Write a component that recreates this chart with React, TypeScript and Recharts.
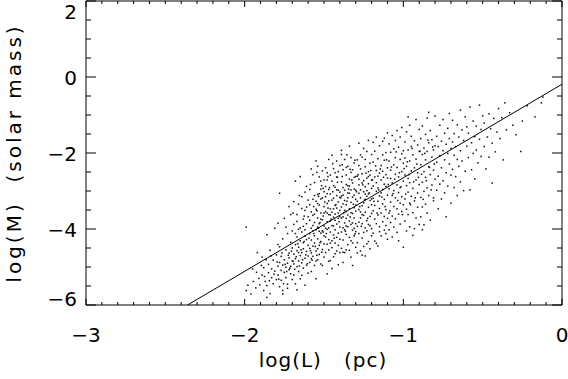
import React from 'react';
import { ScatterChart, Scatter, XAxis, YAxis } from 'recharts';

const xMajorTicks = [-3, -2, -1, 0];
const xMinorTicks = [-3, -2.9, -2.8, -2.7, -2.6, -2.5, -2.4, -2.3, -2.2, -2.1, -2, -1.9, -1.8, -1.7, -1.6, -1.5, -1.4, -1.3, -1.2, -1.1, -1, -0.9, -0.8, -0.7, -0.6, -0.5, -0.4, -0.3, -0.2, -0.1, 0];
const yMajorTicks = [-6, -4, -2, 0, 2];
const yMinorTicks = [-6, -5.5, -5, -4.5, -4, -3.5, -3, -2.5, -2, -1.5, -1, -0.5, 0, 0.5, 1, 1.5, 2];

const xLabel = 'log(L)   (pc)';
const yLabel = 'log(M)  (solar mass)';

const fitLineX = [-2.36, 0];
const fitLineY = [-6, -0.19];

const cloudPoints: number[][] = [
[-1.99,-3.95],[-1.99,-5.62],[-1.98,-5.48],[-1.96,-5.71],[-1.95,-5.05],[-1.93,-5.55],[-1.91,-5.30],[-1.92,-4.62],
[-1.89,-5.21],[-1.89,-4.74],[-1.88,-5.62],[-1.88,-5.02],[-1.87,-5.38],[-1.86,-4.15],[-1.86,-5.49],[-1.85,-4.93],[-1.85,-5.15],[-1.84,-5.70],[-1.84,-4.56],[-1.83,-5.28],[-1.83,-5.05],[-1.82,-4.82],[-1.82,-5.44],[-1.81,-3.98],[-1.81,-5.11],[-1.80,-4.68],[-1.80,-5.33],[-1.86,-5.80],
[-1.79,-4.98],[-1.79,-5.21],[-1.79,-4.41],[-1.78,-5.52],[-1.78,-4.88],[-1.78,-3.06],[-1.77,-5.09],[-1.77,-4.72],[-1.77,-5.35],[-1.76,-4.95],[-1.76,-4.26],[-1.76,-5.62],[-1.75,-5.14],[-1.75,-4.81],[-1.75,-3.72],[-1.74,-5.01],[-1.74,-4.55],[-1.74,-5.28],[-1.73,-4.90],[-1.73,-4.12],[-1.73,-5.45],[-1.72,-4.76],[-1.72,-5.07],[-1.72,-3.41],[-1.72,-4.63],[-1.71,-4.98],[-1.71,-5.18],[-1.71,-4.35],[-1.70,-4.84],[-1.70,-5.33],[-1.70,-4.50],[-1.79,-3.85],[-1.76,-5.71],[-1.74,-3.95],[-1.71,-3.62],[-1.78,-4.47],[-1.73,-5.56],[-1.70,-4.05],
[-1.69,-4.66],[-1.69,-4.92],[-1.69,-3.88],[-1.69,-5.21],[-1.68,-4.41],[-1.68,-4.78],[-1.68,-2.74],[-1.68,-5.44],[-1.67,-4.57],[-1.67,-3.62],[-1.67,-4.99],[-1.67,-4.21],[-1.66,-4.84],[-1.66,-3.35],[-1.66,-4.48],[-1.66,-5.12],[-1.65,-4.70],[-1.65,-3.97],[-1.65,-4.31],[-1.65,-5.31],[-1.64,-4.62],[-1.64,-3.15],[-1.64,-4.89],[-1.64,-4.08],[-1.63,-4.52],[-1.63,-3.74],[-1.63,-5.03],[-1.63,-4.36],[-1.62,-4.77],[-1.62,-3.51],[-1.62,-4.19],[-1.62,-5.48],[-1.61,-4.59],[-1.61,-3.86],[-1.61,-4.95],[-1.61,-2.88],[-1.60,-4.43],[-1.60,-3.68],[-1.60,-4.71],[-1.60,-5.16],[-1.69,-3.28],[-1.67,-5.60],[-1.66,-4.01],[-1.64,-3.46],[-1.62,-4.02],[-1.61,-4.28],[-1.68,-4.12],[-1.65,-2.62],[-1.63,-3.93],[-1.60,-3.24],[-1.67,-3.80],[-1.64,-5.22],[-1.62,-3.03],[-1.66,-4.62],[-1.61,-3.42],
[-1.59,-4.51],[-1.59,-3.77],[-1.59,-2.96],[-1.59,-4.88],[-1.59,-4.12],[-1.58,-3.55],[-1.58,-4.63],[-1.58,-2.42],[-1.58,-4.29],[-1.58,-5.12],[-1.57,-3.91],[-1.57,-4.45],[-1.57,-3.22],[-1.57,-4.72],[-1.57,-3.64],[-1.56,-4.18],[-1.56,-2.78],[-1.56,-4.96],[-1.56,-3.83],[-1.56,-4.37],[-1.55,-3.48],[-1.55,-4.58],[-1.55,-2.21],[-1.55,-4.02],[-1.55,-5.31],[-1.54,-3.71],[-1.54,-4.26],[-1.54,-3.09],[-1.54,-4.81],[-1.54,-3.95],[-1.53,-4.43],[-1.53,-3.37],[-1.53,-2.63],[-1.53,-4.67],[-1.53,-3.86],[-1.52,-4.11],[-1.52,-3.58],[-1.52,-4.92],[-1.52,-2.95],[-1.52,-4.33],[-1.51,-3.76],[-1.51,-4.54],[-1.51,-3.18],[-1.51,-4.05],[-1.51,-2.47],[-1.50,-3.92],[-1.50,-4.39],[-1.50,-3.41],[-1.50,-4.74],[-1.50,-3.02],[-1.59,-3.36],[-1.58,-3.98],[-1.57,-2.57],[-1.56,-3.12],[-1.55,-4.84],[-1.54,-2.35],[-1.53,-4.06],[-1.52,-3.21],[-1.51,-4.96],[-1.50,-2.71],[-1.58,-4.78],[-1.56,-3.61],[-1.54,-4.52],[-1.52,-3.74],[-1.50,-4.18],[-1.57,-4.05],[-1.55,-3.27],[-1.53,-3.07],
[-1.49,-3.54],[-1.49,-4.21],[-1.49,-2.88],[-1.49,-4.62],[-1.49,-3.15],[-1.48,-3.81],[-1.48,-4.40],[-1.48,-2.52],[-1.48,-3.33],[-1.48,-5.18],[-1.47,-3.97],[-1.47,-2.96],[-1.47,-4.55],[-1.47,-3.62],[-1.47,-2.17],[-1.46,-4.08],[-1.46,-3.47],[-1.46,-4.83],[-1.46,-3.08],[-1.46,-3.79],[-1.45,-4.31],[-1.45,-2.74],[-1.45,-3.56],[-1.45,-4.49],[-1.45,-3.24],[-1.44,-3.92],[-1.44,-2.41],[-1.44,-4.16],[-1.44,-3.69],[-1.44,-4.73],[-1.43,-3.38],[-1.43,-2.90],[-1.43,-4.02],[-1.43,-3.61],[-1.43,-4.37],[-1.42,-3.12],[-1.42,-3.87],[-1.42,-2.63],[-1.42,-4.58],[-1.42,-3.45],[-1.41,-4.11],[-1.41,-2.98],[-1.41,-3.72],[-1.41,-4.94],[-1.41,-3.29],[-1.40,-3.95],[-1.40,-2.33],[-1.40,-4.27],[-1.40,-3.51],[-1.40,-3.03],[-1.49,-3.98],[-1.48,-2.71],[-1.47,-4.28],[-1.46,-2.58],[-1.45,-3.91],[-1.44,-3.19],[-1.43,-4.65],[-1.42,-2.21],[-1.41,-3.58],[-1.40,-4.62],[-1.49,-2.39],[-1.47,-3.26],[-1.45,-2.06],[-1.43,-3.77],[-1.41,-2.49],[-1.48,-4.01],[-1.46,-3.63],[-1.44,-2.86],[-1.42,-4.22],[-1.40,-3.17],[-1.47,-4.85],[-1.45,-5.04],[-1.43,-2.52],[-1.41,-4.43],[-1.48,-3.58],
[-1.39,-3.42],[-1.39,-2.76],[-1.39,-4.08],[-1.39,-3.13],[-1.39,-4.51],[-1.38,-3.68],[-1.38,-2.44],[-1.38,-3.97],[-1.38,-2.91],[-1.38,-4.29],[-1.37,-3.25],[-1.37,-3.84],[-1.37,-2.17],[-1.37,-4.62],[-1.37,-3.51],[-1.36,-2.83],[-1.36,-4.14],[-1.36,-3.36],[-1.36,-2.58],[-1.36,-3.92],[-1.35,-3.05],[-1.35,-4.41],[-1.35,-3.63],[-1.35,-2.35],[-1.35,-3.18],[-1.34,-3.79],[-1.34,-2.69],[-1.34,-4.22],[-1.34,-3.47],[-1.34,-1.82],[-1.33,-2.97],[-1.33,-3.88],[-1.33,-4.74],[-1.33,-3.30],[-1.33,-2.51],[-1.32,-3.59],[-1.32,-4.03],[-1.32,-2.79],[-1.32,-3.16],[-1.32,-4.37],[-1.31,-3.44],[-1.31,-2.26],[-1.31,-3.71],[-1.31,-4.18],[-1.31,-2.95],[-1.30,-3.53],[-1.30,-2.62],[-1.30,-4.48],[-1.30,-3.22],[-1.30,-3.86],[-1.39,-2.04],[-1.38,-4.88],[-1.37,-2.98],[-1.36,-4.55],[-1.35,-2.86],[-1.34,-3.06],[-1.33,-2.12],[-1.32,-4.96],[-1.31,-2.64],[-1.30,-4.07],[-1.39,-3.71],[-1.37,-4.02],[-1.35,-3.94],[-1.33,-3.57],[-1.31,-3.98],[-1.38,-3.34],[-1.36,-2.38],[-1.34,-4.56],[-1.32,-2.44],[-1.30,-2.98],[-1.39,-1.93],[-1.36,-3.72],[-1.33,-4.31],[-1.31,-3.11],[-1.38,-4.61],
[-1.29,-3.27],[-1.29,-2.61],[-1.29,-3.93],[-1.29,-2.18],[-1.29,-4.36],[-1.28,-3.49],[-1.28,-2.84],[-1.28,-4.12],[-1.28,-3.06],[-1.28,-1.74],[-1.27,-3.71],[-1.27,-2.42],[-1.27,-4.58],[-1.27,-3.18],[-1.27,-2.97],[-1.26,-3.86],[-1.26,-2.55],[-1.26,-3.39],[-1.26,-4.24],[-1.26,-2.11],[-1.25,-3.02],[-1.25,-3.64],[-1.25,-2.73],[-1.25,-4.46],[-1.25,-3.31],[-1.24,-2.36],[-1.24,-3.97],[-1.24,-2.89],[-1.24,-3.56],[-1.24,-4.71],[-1.23,-3.14],[-1.23,-2.66],[-1.23,-3.78],[-1.23,-1.96],[-1.23,-4.05],[-1.22,-3.43],[-1.22,-2.49],[-1.22,-3.08],[-1.22,-4.33],[-1.22,-2.81],[-1.21,-3.67],[-1.21,-2.27],[-1.21,-3.25],[-1.21,-3.91],[-1.21,-2.58],[-1.20,-3.36],[-1.20,-2.93],[-1.20,-4.18],[-1.20,-2.04],[-1.20,-3.59],[-1.29,-4.63],[-1.28,-2.33],[-1.27,-3.55],[-1.26,-2.79],[-1.25,-1.88],[-1.24,-3.22],[-1.23,-4.39],[-1.22,-3.88],[-1.21,-4.52],[-1.20,-2.71],[-1.28,-3.82],[-1.26,-4.69],[-1.24,-2.17],[-1.22,-1.67],[-1.20,-3.99],[-1.27,-2.05],[-1.25,-4.09],[-1.23,-2.99],
[-1.19,-2.87],[-1.19,-3.52],[-1.19,-2.24],[-1.19,-4.11],[-1.19,-3.19],[-1.18,-2.63],[-1.18,-3.74],[-1.18,-1.95],[-1.18,-3.38],[-1.18,-4.32],[-1.17,-3.01],[-1.17,-2.46],[-1.17,-3.86],[-1.17,-2.78],[-1.17,-1.58],[-1.16,-3.27],[-1.16,-2.15],[-1.16,-3.63],[-1.16,-4.45],[-1.16,-2.92],[-1.15,-3.46],[-1.15,-2.53],[-1.15,-3.94],[-1.15,-1.81],[-1.15,-3.13],[-1.14,-2.71],[-1.14,-3.58],[-1.14,-2.33],[-1.14,-4.18],[-1.14,-3.05],[-1.13,-2.48],[-1.13,-3.81],[-1.13,-1.69],[-1.13,-3.34],[-1.13,-2.96],[-1.12,-3.67],[-1.12,-2.19],[-1.12,-4.03],[-1.12,-2.82],[-1.12,-3.22],[-1.11,-2.57],[-1.11,-3.49],[-1.11,-1.99],[-1.11,-3.91],[-1.11,-2.88],[-1.10,-3.11],[-1.10,-2.39],[-1.10,-3.72],[-1.10,-1.47],[-1.10,-4.27],[-1.19,-1.72],[-1.17,-4.38],[-1.16,-2.61],[-1.15,-4.07],[-1.13,-2.05],[-1.12,-1.61],[-1.11,-4.12],[-1.10,-2.66],
[-1.09,-2.94],[-1.09,-2.21],[-1.09,-3.58],[-1.09,-1.76],[-1.09,-4.02],[-1.08,-2.67],[-1.08,-3.29],[-1.08,-1.98],[-1.08,-3.83],[-1.08,-2.45],[-1.07,-3.12],[-1.07,-1.54],[-1.07,-3.66],[-1.07,-2.79],[-1.07,-4.21],[-1.06,-2.31],[-1.06,-3.41],[-1.06,-1.89],[-1.06,-2.99],[-1.06,-3.95],[-1.05,-2.56],[-1.05,-3.18],[-1.05,-1.67],[-1.05,-3.73],[-1.05,-2.12],[-1.04,-2.84],[-1.04,-3.47],[-1.04,-1.41],[-1.04,-4.09],[-1.04,-2.38],[-1.03,-3.04],[-1.03,-1.85],[-1.03,-3.61],[-1.03,-2.63],[-1.03,-4.31],[-1.02,-2.17],[-1.02,-3.32],[-1.02,-2.91],[-1.02,-1.58],[-1.02,-3.87],[-1.01,-2.49],[-1.01,-3.15],[-1.01,-2.02],[-1.01,-3.54],[-1.01,-1.33],[-1.00,-2.74],[-1.00,-3.36],[-1.00,-1.94],[-1.00,-4.48],[-1.00,-2.27],
[-0.99,-2.58],[-0.99,-3.21],[-0.99,-1.71],[-0.99,-3.79],[-0.99,-2.13],[-0.98,-2.86],[-0.98,-1.44],[-0.98,-3.48],[-0.98,-2.35],[-0.98,-4.05],[-0.97,-3.03],[-0.97,-1.92],[-0.97,-2.67],[-0.97,-3.62],[-0.96,-2.21],[-0.96,-1.27],[-0.96,-3.32],[-0.96,-2.78],[-0.96,-3.94],[-0.95,-1.83],[-0.95,-2.47],[-0.95,-3.14],[-0.95,-1.56],[-0.94,-3.57],[-0.94,-2.05],[-0.94,-2.93],[-0.94,-4.17],[-0.93,-2.39],[-0.93,-1.68],[-0.93,-3.26],[-0.92,-2.71],[-0.92,-1.12],[-0.92,-3.71],[-0.92,-2.16],[-0.91,-3.05],[-0.91,-1.79],[-0.91,-2.52],[-0.91,-3.43],[-0.90,-1.96],[-0.90,-2.83],[-0.90,-3.88],[-0.90,-1.38],[-0.97,-1.05],[-0.93,-3.99],
[-0.89,-2.31],[-0.89,-3.17],[-0.89,-1.62],[-0.89,-3.68],[-0.88,-2.04],[-0.88,-2.77],[-0.88,-1.29],[-0.88,-3.42],[-0.87,-2.49],[-0.87,-1.87],[-0.87,-3.01],[-0.87,-3.89],[-0.86,-2.18],[-0.86,-1.51],[-0.86,-2.64],[-0.86,-3.35],[-0.85,-1.96],[-0.85,-2.92],[-0.85,-1.08],[-0.85,-3.58],[-0.84,-2.36],[-0.84,-1.73],[-0.84,-3.12],[-0.83,-2.57],[-0.83,-1.41],[-0.83,-3.77],[-0.82,-2.11],[-0.82,-2.84],[-0.82,-1.65],[-0.81,-3.26],[-0.81,-1.92],[-0.81,-2.45],[-0.81,-3.18],[-0.80,-1.03],[-0.80,-2.69],[-0.80,-1.81],[-0.84,-0.93],[-0.88,-4.02],
[-0.79,-2.24],[-0.79,-1.56],[-0.79,-2.98],[-0.78,-1.83],[-0.78,-2.61],[-0.78,-3.47],[-0.77,-1.27],[-0.77,-2.07],[-0.77,-2.82],[-0.76,-1.69],[-0.76,-2.39],[-0.76,-3.21],[-0.75,-1.94],[-0.75,-1.12],[-0.75,-2.73],[-0.74,-2.18],[-0.74,-1.48],[-0.74,-3.05],[-0.73,-1.77],[-0.73,-2.52],[-0.73,-3.68],[-0.72,-2.01],[-0.72,-1.35],[-0.72,-2.87],[-0.71,-1.62],[-0.71,-2.29],[-0.71,-0.96],[-0.70,-1.88],[-0.70,-2.58],[-0.70,-3.32],
[-0.69,-1.71],[-0.69,-2.43],[-0.69,-1.14],[-0.68,-2.06],[-0.68,-2.91],[-0.68,-1.49],[-0.67,-1.83],[-0.67,-2.62],[-0.66,-1.26],[-0.66,-2.17],[-0.66,-3.12],[-0.65,-1.58],[-0.65,-2.35],[-0.64,-0.87],[-0.64,-1.94],[-0.64,-2.76],[-0.63,-1.39],[-0.63,-2.21],[-0.62,-1.67],[-0.62,-2.99],[-0.61,-1.05],[-0.61,-2.48],[-0.60,-1.82],[-0.60,-1.31],
[-0.59,-2.12],[-0.59,-1.48],[-0.58,-2.97],[-0.58,-0.79],[-0.57,-1.73],[-0.57,-2.44],[-0.56,-1.16],[-0.56,-2.01],[-0.55,-1.57],[-0.55,-2.68],[-0.54,-1.29],[-0.54,-1.92],[-0.53,-2.26],[-0.52,-0.74],[-0.52,-1.64],[-0.51,-1.38],[-0.51,-2.09],[-0.50,-1.02],
[-0.49,-1.83],[-0.49,-1.21],[-0.48,-2.42],[-0.47,-1.58],[-0.46,-0.97],[-0.46,-2.11],[-0.45,-1.36],[-0.44,-1.74],[-0.44,-2.79],[-0.43,-1.09],[-0.42,-1.97],[-0.41,-1.45],[-0.40,-0.83],
[-0.39,-1.62],[-0.38,-1.07],[-0.37,-2.18],[-0.36,-0.68],[-0.35,-1.39],[-0.33,-0.94],[-0.31,-1.27],
[-0.29,-1.52],[-0.26,-1.96],[-0.25,-1.16],[-0.22,-0.76],
[-0.13,-0.68],[-0.12,-0.53],[-0.17,-1.05],
[-1.745,-4.93],[-1.735,-5.12],[-1.725,-4.69],[-1.715,-5.03],[-1.705,-4.58],[-1.695,-4.85],[-1.685,-5.06],[-1.675,-4.73],[-1.665,-4.39],[-1.655,-4.97],[-1.645,-4.55],[-1.635,-4.81],[-1.625,-4.33],[-1.615,-4.68],[-1.605,-4.91],[-1.595,-4.24],[-1.585,-4.57],[-1.575,-4.82],[-1.565,-4.12],[-1.555,-4.46],[-1.545,-4.69],[-1.535,-3.98],[-1.525,-4.36],[-1.515,-4.61],[-1.505,-4.08],
[-1.545,-3.52],[-1.535,-3.14],[-1.525,-3.83],[-1.515,-2.86],[-1.505,-3.66],[-1.495,-3.29],[-1.485,-4.12],[-1.475,-3.45],[-1.465,-2.91],[-1.455,-3.74],[-1.445,-3.02],[-1.435,-4.24],[-1.425,-3.36],[-1.415,-2.77],[-1.405,-3.81],[-1.395,-3.18],[-1.385,-2.62],[-1.375,-3.57],[-1.365,-4.06],[-1.355,-3.27],[-1.345,-2.95],[-1.335,-3.68],[-1.325,-2.71],[-1.315,-3.35],[-1.305,-4.13],[-1.295,-3.02],[-1.285,-2.57],[-1.275,-3.41],[-1.265,-3.93],[-1.255,-2.84],[-1.245,-3.24],[-1.235,-2.53],[-1.225,-3.72],[-1.215,-3.05],[-1.205,-2.46],
[-1.54,-3.33],[-1.52,-2.74],[-1.50,-3.58],[-1.48,-3.07],[-1.46,-4.37],[-1.44,-3.47],[-1.42,-2.97],[-1.40,-3.67],[-1.38,-3.11],[-1.36,-3.54],[-1.34,-2.87],[-1.32,-3.84],[-1.30,-3.37],[-1.28,-2.69],[-1.26,-3.62],[-1.24,-3.08],[-1.22,-2.62],[-1.20,-3.21],
[-1.195,-2.71],[-1.185,-3.27],[-1.175,-2.34],[-1.165,-3.58],[-1.155,-2.97],[-1.145,-2.42],[-1.135,-3.16],[-1.125,-2.64],[-1.115,-3.41],[-1.105,-2.18],[-1.095,-2.83],[-1.085,-3.52],[-1.075,-2.37],[-1.065,-3.07],[-1.055,-2.69],[-1.045,-1.97],[-1.035,-3.25],[-1.025,-2.52],[-1.015,-2.89],[-1.005,-3.62],[-0.995,-2.41],[-0.985,-3.08],[-0.975,-2.23],[-0.965,-2.57],[-0.955,-3.36],[-0.945,-1.88],[-0.935,-2.76],[-0.925,-3.18],[-0.915,-2.29],[-0.905,-2.64],[-0.895,-1.95],[-0.885,-2.56],[-0.875,-3.22],[-0.865,-2.01],[-0.855,-2.73],[-0.845,-1.66],[-0.835,-2.38],[-0.825,-2.97],[-0.815,-1.84],[-0.805,-2.29],
[-1.945,-5.38],[-1.925,-5.14],[-1.905,-5.47],[-1.895,-4.96],[-1.875,-5.25],[-1.865,-4.81],[-1.845,-5.36],[-1.835,-4.71],[-1.815,-5.19],[-1.795,-4.87],[-1.785,-5.32],[-1.765,-4.63],[-1.755,-5.44],
[-1.695,-3.58],[-1.655,-3.12],[-1.625,-3.66],[-1.585,-2.83],[-1.565,-3.41],[-1.545,-2.51],[-1.505,-2.93],[-1.475,-2.62],[-1.445,-2.28],[-1.415,-2.64],[-1.385,-2.31],[-1.355,-2.05],[-1.335,-2.43],[-1.305,-2.19]
];

const cloudData = cloudPoints.map(([x, y]) => ({ x, y }));
const fitData = fitLineX.map((x, i) => ({ x, y: fitLineY[i] }));

const FONT = '"DejaVu Sans", sans-serif';
const AXIS_COLOR = '#000';

const isMajorX = (v: number) => xMajorTicks.some((m) => Math.abs(m - v) < 1e-6);
const isMajorY = (v: number) => yMajorTicks.some((m) => Math.abs(m - v) < 1e-6);

const Dot = (props: any) => {
  const { cx, cy } = props;
  if (cx == null || cy == null) return null;
  return <rect x={cx - 0.75} y={cy - 0.75} width={1.5} height={1.5} fill="#111" />;
};

const NoShape = () => null;

const fmt = (v: number) => (v < 0 ? '\u2212' + Math.abs(v) : String(v));

const BottomTick = (props: any) => {
  const { x, y, payload } = props;
  const major = isMajorX(payload.value);
  return (
    <g>
      <line x1={x} x2={x} y1={y} y2={y - (major ? 6 : 3)} stroke={AXIS_COLOR} strokeWidth={1} />
      {major && (
        <text x={x} y={y + 37} textAnchor="middle" fontFamily={FONT} fontSize={20} fill="#000">
          {fmt(payload.value)}
        </text>
      )}
    </g>
  );
};

const TopTick = (props: any) => {
  const { x, y, payload } = props;
  const major = isMajorX(payload.value);
  return <line x1={x} x2={x} y1={y} y2={y + (major ? 6 : 3)} stroke={AXIS_COLOR} strokeWidth={1} />;
};

const LeftTick = (props: any) => {
  const { x, y, payload } = props;
  const major = isMajorY(payload.value);
  let base = y + 8;
  if (payload.value === 2) base = y + 18;
  if (payload.value === -6) base = y + 1;
  return (
    <g>
      <line x1={x} x2={x + (major ? 10 : 5)} y1={y} y2={y} stroke={AXIS_COLOR} strokeWidth={1} />
      {major && (
        <text x={x - 9} y={base} textAnchor="end" fontFamily={FONT} fontSize={20} fill="#000">
          {fmt(payload.value)}
        </text>
      )}
    </g>
  );
};

const RightTick = (props: any) => {
  const { x, y, payload } = props;
  const major = isMajorY(payload.value);
  return <line x1={x} x2={x - (major ? 10 : 5)} y1={y} y2={y} stroke={AXIS_COLOR} strokeWidth={1} />;
};

export default function App() {
  const W = 568;
  const H = 379;
  return (
    <div style={{ position: 'absolute', left: 0, top: 0, width: W, height: H, background: '#fff' }}>
      <ScatterChart width={W} height={H} margin={{ top: 0, right: 0, bottom: 0, left: 0 }}>
        <XAxis xAxisId="x" type="number" dataKey="x" domain={[-3, 0]} allowDataOverflow ticks={xMinorTicks} interval={0}
          orientation="bottom" height={74} tickSize={0} tickMargin={0} tick={<BottomTick />}
          axisLine={{ stroke: AXIS_COLOR }} tickLine={false} />
        <XAxis xAxisId="top" type="number" dataKey="x" domain={[-3, 0]} allowDataOverflow ticks={xMinorTicks} interval={0}
          orientation="top" height={1} tickSize={0} tickMargin={0} tick={<TopTick />}
          axisLine={{ stroke: AXIS_COLOR }} tickLine={false} />
        <YAxis yAxisId="y" type="number" dataKey="y" domain={[-6, 2]} allowDataOverflow ticks={yMinorTicks} interval={0}
          orientation="left" width={86} tickSize={0} tickMargin={0} tick={<LeftTick />}
          axisLine={{ stroke: AXIS_COLOR }} tickLine={false} />
        <YAxis yAxisId="right" type="number" dataKey="y" domain={[-6, 2]} allowDataOverflow ticks={yMinorTicks} interval={0}
          orientation="right" width={6} tickSize={0} tickMargin={0} tick={<RightTick />}
          axisLine={{ stroke: AXIS_COLOR }} tickLine={false} />

        <Scatter xAxisId="x" yAxisId="y" data={cloudData} shape={<Dot />} isAnimationActive={false} />
        <Scatter xAxisId="top" yAxisId="right" data={fitData} shape={<NoShape />} line={{ stroke: '#000', strokeWidth: 1 }} isAnimationActive={false} />
      </ScatterChart>
      <svg width={W} height={H} style={{ position: 'absolute', left: 0, top: 0, pointerEvents: 'none' }}>
        <text x={323} y={367} textAnchor="middle" fontFamily={FONT} fontSize={20} letterSpacing={1} fill="#000" style={{ whiteSpace: 'pre' }}>
          {xLabel}
        </text>
        <text transform="translate(21,153) rotate(-90)" textAnchor="middle" fontFamily={FONT} fontSize={20} letterSpacing={3} fill="#000" style={{ whiteSpace: 'pre' }}>
          {yLabel}
        </text>
      </svg>
    </div>
  );
}
